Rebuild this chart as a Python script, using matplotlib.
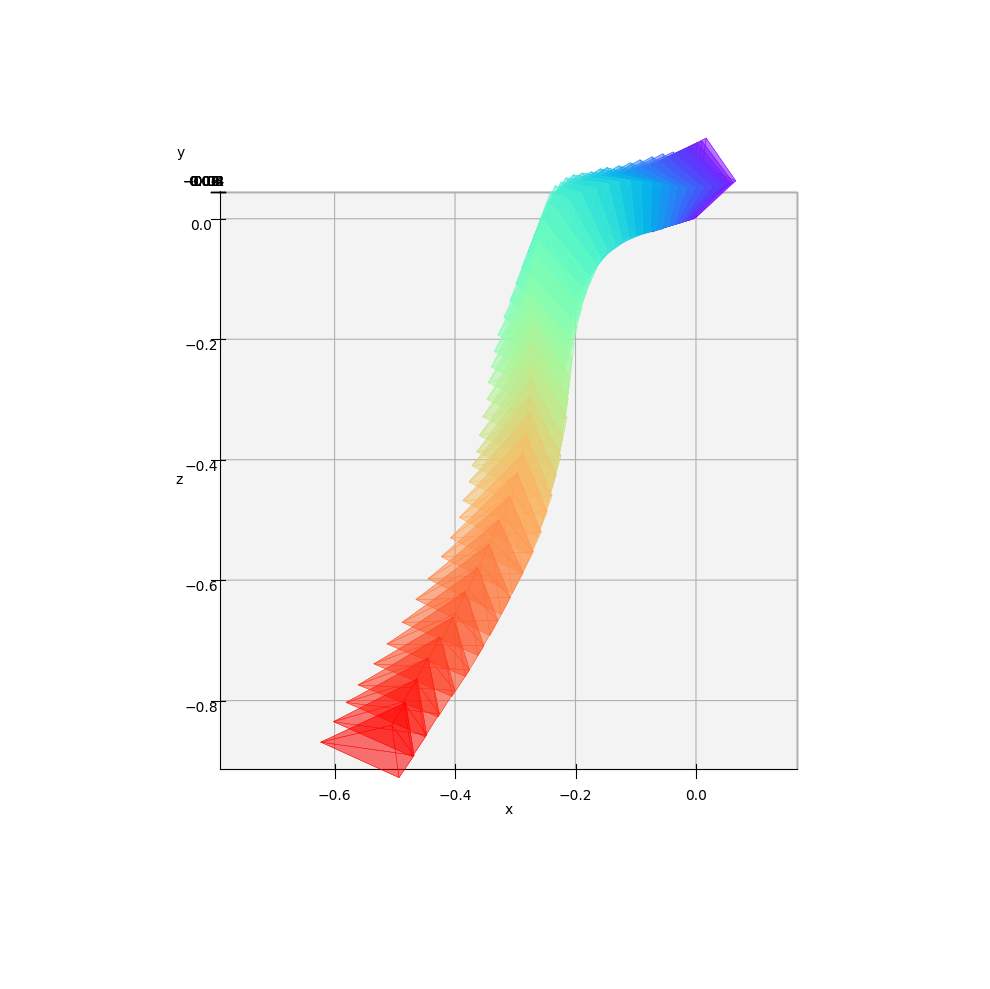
import numpy as np
import matplotlib
matplotlib.use('Agg')
import matplotlib.pyplot as plt
from mpl_toolkits.mplot3d.art3d import Poly3DCollection

# corner tracks of the camera pyramids (first pose -> last pose)
top_x = [0.017, 0.010, 0.002, -0.008, -0.020, -0.038, -0.055, -0.073, -0.093, -0.109, -0.128, -0.148, -0.159, -0.174, -0.189, -0.204,
         -0.216, -0.224, -0.234, -0.241, -0.247, -0.254, -0.261, -0.264, -0.272, -0.276, -0.274, -0.271, -0.271, -0.272, -0.274,
         -0.276, -0.277, -0.282, -0.287, -0.297, -0.309, -0.327, -0.344, -0.362, -0.383, -0.403, -0.425, -0.445, -0.463, -0.482]
top_z = [0.134, 0.129, 0.126, 0.121, 0.116, 0.111, 0.108, 0.103, 0.098, 0.093, 0.088, 0.085, 0.083, 0.078, 0.076, 0.073,
         0.068, 0.061, 0.055, 0.045, 0.027, -0.002, -0.035, -0.063, -0.095, -0.121, -0.148, -0.176, -0.206, -0.239, -0.269,
         -0.295, -0.324, -0.357, -0.390, -0.422, -0.461, -0.500, -0.540, -0.579, -0.619, -0.661, -0.694, -0.729, -0.764, -0.803]

left_x = [-0.040, -0.051, -0.061, -0.073, -0.085, -0.101, -0.118, -0.134, -0.151, -0.168, -0.183, -0.198, -0.212, -0.226, -0.239, -0.249,
          -0.259, -0.269, -0.279, -0.289, -0.299, -0.309, -0.319, -0.329, -0.335, -0.340, -0.345, -0.347, -0.354, -0.360, -0.364,
          -0.372, -0.377, -0.387, -0.393, -0.408, -0.423, -0.445, -0.465, -0.488, -0.513, -0.535, -0.561, -0.581, -0.602, -0.623]
left_z = [0.106, 0.101, 0.095, 0.090, 0.085, 0.080, 0.075, 0.070, 0.065, 0.061, 0.056, 0.051, 0.048, 0.045, 0.040, 0.023,
          -0.002, -0.028, -0.055, -0.081, -0.108, -0.136, -0.164, -0.193, -0.221, -0.246, -0.272, -0.300, -0.329, -0.360, -0.387,
          -0.410, -0.437, -0.468, -0.496, -0.530, -0.561, -0.598, -0.632, -0.670, -0.706, -0.739, -0.774, -0.803, -0.835, -0.869]

right_x = [0.000, -0.003, -0.007, -0.010, -0.015, -0.020, -0.025, -0.032, -0.038, -0.046, -0.056, -0.066, -0.076, -0.088, -0.100, -0.111,
           -0.123, -0.134, -0.148, -0.158, -0.164, -0.174, -0.182, -0.189, -0.197, -0.202, -0.206, -0.209, -0.212, -0.214, -0.221,
           -0.224, -0.232, -0.239, -0.247, -0.257, -0.270, -0.287, -0.308, -0.329, -0.352, -0.376, -0.400, -0.426, -0.447, -0.468]
right_z = [0.002, 0.000, -0.001, -0.002, -0.003, -0.005, -0.007, -0.008, -0.011, -0.013, -0.017, -0.018, -0.022, -0.025, -0.028, -0.032,
           -0.035, -0.041, -0.051, -0.065, -0.081, -0.101, -0.123, -0.148, -0.179, -0.207, -0.231, -0.264, -0.299, -0.330, -0.362,
           -0.393, -0.425, -0.460, -0.486, -0.520, -0.553, -0.588, -0.629, -0.667, -0.709, -0.749, -0.783, -0.822, -0.857, -0.891]

low_x = [-0.046, -0.053, -0.060, -0.066, -0.073, -0.081, -0.090, -0.100, -0.121, -0.131, -0.143, -0.153, -0.163, -0.171, -0.178, -0.184,
         -0.191, -0.198, -0.203, -0.209, -0.213, -0.216, -0.219, -0.221, -0.224, -0.214, -0.217, -0.222, -0.227, -0.232, -0.239,
         -0.246, -0.254, -0.264, -0.276, -0.289, -0.305, -0.324, -0.342, -0.362, -0.383, -0.405, -0.428, -0.450, -0.471, -0.493]
low_z = [-0.013, -0.015, -0.017, -0.018, -0.022, -0.023, -0.025, -0.028, -0.026, -0.029, -0.034, -0.040, -0.047, -0.059, -0.072, -0.085,
         -0.102, -0.122, -0.138, -0.162, -0.183, -0.208, -0.228, -0.253, -0.275, -0.305, -0.334, -0.360, -0.387, -0.417, -0.445,
         -0.471, -0.498, -0.528, -0.558, -0.589, -0.622, -0.657, -0.692, -0.725, -0.760, -0.793, -0.827, -0.860, -0.893, -0.928]

apex_x = [0.066, 0.061, 0.056, 0.050, 0.043, 0.027, 0.012, -0.002, -0.015, -0.030, -0.043, -0.058, -0.073, -0.091, -0.109, -0.128,
          -0.146, -0.167, -0.191, -0.212, -0.229, -0.242, -0.252, -0.257, -0.267, -0.272, -0.272, -0.271, -0.271, -0.274, -0.277,
          -0.280, -0.282, -0.289, -0.295, -0.305, -0.320, -0.340, -0.358, -0.378, -0.400, -0.421, -0.444, -0.466, -0.486, -0.505]
apex_z = [0.063, 0.061, 0.060, 0.058, 0.055, 0.053, 0.051, 0.051, 0.051, 0.053, 0.055, 0.058, 0.060, 0.061, 0.063, 0.061,
          0.058, 0.051, 0.043, 0.032, 0.012, -0.022, -0.056, -0.086, -0.118, -0.146, -0.173, -0.202, -0.232, -0.267, -0.297,
          -0.325, -0.354, -0.388, -0.422, -0.455, -0.495, -0.534, -0.574, -0.616, -0.656, -0.697, -0.730, -0.767, -0.802, -0.841]

fig = plt.figure(figsize=(9.9, 9.89), dpi=100)
ax = fig.add_axes([0.1159, 0.1191, 0.775, 0.77], projection='3d', proj_type='ortho')
ax.view_init(elev=-0.001, azim=-90.001)
ax.set_box_aspect((1, 1, 1), zoom=1.274)

n = len(top_x)
colors = plt.cm.rainbow(np.linspace(0, 1, n))
for i in range(n):
    a = (apex_x[i], 0, apex_z[i])
    t = (top_x[i], 0, top_z[i])
    l = (left_x[i], 0, left_z[i])
    r = (right_x[i], 0, right_z[i])
    b = (low_x[i], 0, low_z[i])
    faces = [[a, l, t], [a, t, r], [a, r, b], [a, b, l], [l, r, t], [l, r, b]]
    pc = Poly3DCollection(faces, facecolors=colors[i], edgecolors=colors[i], linewidths=0.25)
    pc.set_alpha(0.33)
    ax.add_collection3d(pc)

ax.set_xlim(-0.79, 0.168)
ax.set_ylim(-0.045, 0.045)
ax.set_zlim(-0.913, 0.045)
ax.yaxis.set_pane_color((0.915, 0.915, 0.915, 0.5))
ax.xaxis.set_ticks_position('lower')
ax.xaxis.set_label_position('lower')
ax.tick_params(axis='x', pad=2.3)
ax.tick_params(axis='y', pad=0)
ax.tick_params(axis='z', pad=1.5)
ax.set_xlabel('x', labelpad=-0.5)
ax.set_ylabel('y', labelpad=-1.7)
ax.set_zlabel('z', labelpad=-0.6)

fig.savefig('out.png', dpi=100)
